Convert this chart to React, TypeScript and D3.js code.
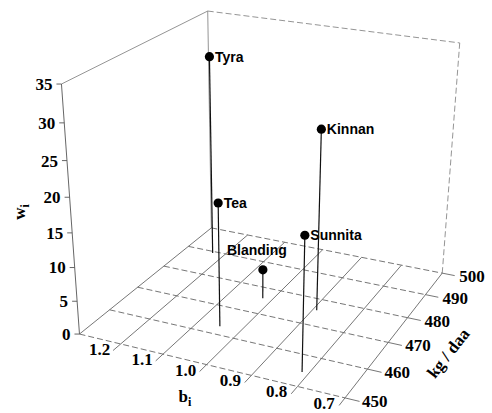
import React from 'react';
import * as d3 from 'd3';

const varieties = ['Tyra', 'Tea', 'Blanding', 'Sunnita', 'Kinnan'];
const biValues = [1.23, 1.049, 1.022, 0.814, 0.891];
const kgValues = [489.3, 462.9, 475.9, 454.5, 475.7];
const wiValues = [30.9, 18.3, 4.5, 19.3, 26.8];

const biTicks = [1.2, 1.1, 1.0, 0.9, 0.8, 0.7];
const biGrid = [1.3, 1.2, 1.1, 1.0, 0.9, 0.8, 0.7];
const kgTicks = [450, 460, 470, 480, 490, 500];
const wiTicks = [0, 5, 10, 15, 20, 25, 30, 35];

const W = 492;
const H = 413;

// Layout anchors: normalized cube corners -> screen
const anchors: number[][] = [
  [0, 0, 0, 79, 334],
  [1, 0, 0, 345, 398],
  [1, 1, 0, 442, 273],
  [0, 1, 0, 212, 228],
  [0, 0, 1, 62, 84],
  [0, 1, 1, 207, 11],
  [1, 1, 1, 460, 43],
];

function solveCamera(pts: number[][]): number[] {
  const rows: number[][] = [];
  const rhs: number[] = [];
  for (const [u, v, w, x, y] of pts) {
    rows.push([u, v, w, 1, 0, 0, 0, 0, -x * u, -x * v, -x * w]);
    rhs.push(x);
    rows.push([0, 0, 0, 0, u, v, w, 1, -y * u, -y * v, -y * w]);
    rhs.push(y);
  }
  const n = 11;
  const A: number[][] = [];
  for (let i = 0; i < n; i++) {
    const r: number[] = [];
    for (let j = 0; j < n; j++) {
      let s = 0;
      for (let k = 0; k < rows.length; k++) s += rows[k][i] * rows[k][j];
      r.push(s);
    }
    let b = 0;
    for (let k = 0; k < rows.length; k++) b += rows[k][i] * rhs[k];
    r.push(b);
    A.push(r);
  }
  for (let c = 0; c < n; c++) {
    let p = c;
    for (let r = c + 1; r < n; r++) if (Math.abs(A[r][c]) > Math.abs(A[p][c])) p = r;
    [A[c], A[p]] = [A[p], A[c]];
    for (let r = 0; r < n; r++) {
      if (r === c) continue;
      const f = A[r][c] / A[c][c];
      for (let k = c; k <= n; k++) A[r][k] -= f * A[c][k];
    }
  }
  return A.map((r, i) => r[n] / r[i]);
}

const P = solveCamera(anchors);
function proj(u: number, v: number, w: number): [number, number] {
  const d = P[8] * u + P[9] * v + P[10] * w + 1;
  return [
    (P[0] * u + P[1] * v + P[2] * w + P[3]) / d,
    (P[4] * u + P[5] * v + P[6] * w + P[7]) / d,
  ];
}

const uScale = d3.scaleLinear().domain([1.3, 0.7]).range([0, 1]);
const vScale = d3.scaleLinear().domain([450, 500]).range([0, 1]);
const wScale = d3.scaleLinear().domain([0, 35]).range([0, 1]);

const labelOffsets: Record<string, [number, number]> = {
  Blanding: [-36, -15],
};

const serif = '"Liberation Serif", "Times New Roman", serif';
const sans = '"Liberation Sans", Arial, sans-serif';

function Seg({ a, b, dash, stroke = '#666', sw = 0.9 }: any) {
  return (
    <line x1={a[0]} y1={a[1]} x2={b[0]} y2={b[1]} stroke={stroke} strokeWidth={sw}
      strokeDasharray={dash ? '6,3' : undefined} />
  );
}

export default function App() {
  const line = d3.line();
  return (
    <svg width={W} height={H} style={{ position: 'absolute', left: 0, top: 0, background: '#fff' }}>
      {/* walls */}
      <Seg a={proj(0, 0, 1)} b={proj(0, 1, 1)} stroke="#888" />
      <Seg a={proj(0, 1, 0)} b={proj(0, 1, 1)} stroke="#888" />
      <Seg a={proj(0, 1, 1)} b={proj(1, 1, 1)} stroke="#888" dash />
      <Seg a={proj(1, 1, 0)} b={proj(1, 1, 1)} stroke="#888" dash />
      {/* z axis */}
      <Seg a={proj(0, 0, 0)} b={proj(0, 0, 1)} stroke="#555" />
      {wiTicks.map((t) => {
        const p = proj(0, 0, wScale(t));
        return (
          <g key={'z' + t}>
            <line x1={p[0] - 5} y1={p[1]} x2={p[0]} y2={p[1]} stroke="#555" strokeWidth={0.9} />
            <text x={p[0] - 9} y={p[1]} dy="0.35em" textAnchor="end" fontFamily={serif}
              fontWeight="bold" fontSize={17}>{t}</text>
          </g>
        );
      })}
      {/* floor grid: constant bi (solid) */}
      {biGrid.map((b) => (
        <Seg key={'bg' + b} a={proj(uScale(b), 0, 0)} b={proj(uScale(b), 1, 0)} />
      ))}
      {/* floor grid: constant kg (dashed) */}
      {kgTicks.map((k) => (
        <Seg key={'kg' + k} a={proj(0, vScale(k), 0)} b={proj(1, vScale(k), 0)} dash />
      ))}
      {/* bi ticks and labels */}
      {biTicks.map((b) => {
        const p = proj(uScale(b), 0, 0);
        const q = proj(uScale(b), -0.05, 0);
        return (
          <g key={'bt' + b}>
            <Seg a={p} b={q} />
            <text x={p[0] - 21} y={p[1] + 5} dy="0.35em" textAnchor="middle" fontFamily={serif}
              fontWeight="bold" fontSize={17}>{d3.format('.1f')(b)}</text>
          </g>
        );
      })}
      {/* kg ticks and labels */}
      {kgTicks.map((k) => {
        const p = proj(1, vScale(k), 0);
        const q = proj(1.05, vScale(k), 0);
        return (
          <g key={'kt' + k}>
            <Seg a={p} b={q} dash={false} />
            <text x={p[0] + 17} y={p[1] + 3} dy="0.35em" textAnchor="start" fontFamily={serif}
              fontWeight="bold" fontSize={17}>{k}</text>
          </g>
        );
      })}
      {/* axis titles */}
      <text x={185} y={396} dy="0.35em" textAnchor="middle" fontFamily={serif} fontWeight="bold" fontSize={17}>
        b<tspan fontSize={12} dy="4">i</tspan>
      </text>
      <text transform="translate(19,212) rotate(-90)" textAnchor="middle" dy="0.35em" fontFamily={serif}
        fontWeight="bold" fontSize={17}>
        w<tspan fontSize={12} dy="4">i</tspan>
      </text>
      <text transform="translate(448,353) rotate(-52)" textAnchor="middle" dy="0.35em" fontFamily={serif}
        fontWeight="bold" fontSize={17}>kg / daa</text>
      {/* stems and points */}
      {varieties.map((name, i) => {
        const u = uScale(biValues[i]);
        const v = vScale(kgValues[i]);
        const top = proj(u, v, wScale(wiValues[i]));
        const foot = proj(u, v, 0);
        const off = labelOffsets[name] || [5.5, 5];
        return (
          <g key={name}>
            <path d={line([foot, top]) || ''} stroke="#111" strokeWidth={1.2} fill="none" />
            <circle cx={top[0]} cy={top[1]} r={4.6} fill="#000" />
            <text x={top[0] + off[0]} y={top[1] + off[1]} fontFamily={sans} fontWeight="bold"
              fontSize={14}>{name}</text>
          </g>
        );
      })}
    </svg>
  );
}
